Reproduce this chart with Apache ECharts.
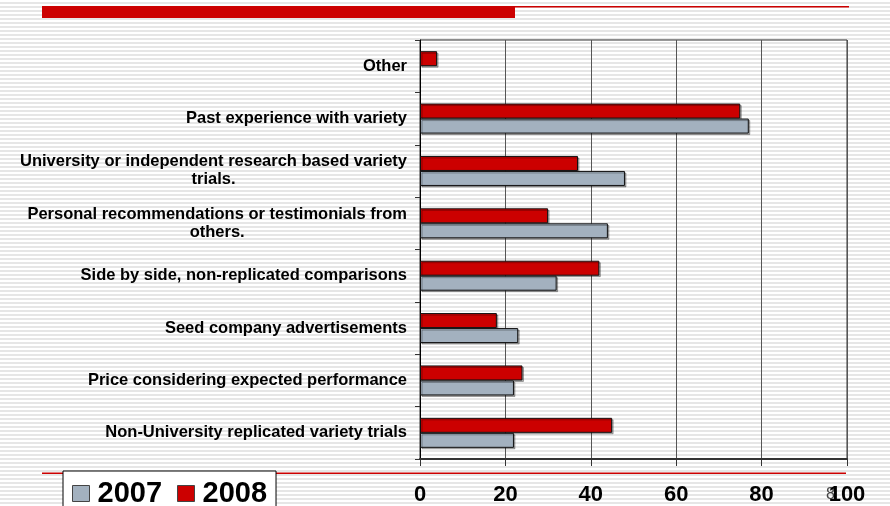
<!DOCTYPE html>
<html>
<head>
<meta charset="utf-8">
<script src="https://cdn.jsdelivr.net/npm/echarts@6/dist/echarts.min.js"></script>
<style>
html, body { margin: 0; padding: 0; }
body {
  width: 890px; height: 506px; overflow: hidden;
  background: repeating-linear-gradient(to bottom, #ffffff 0px, #ffffff 2px, #e6e6e6 2px, #e6e6e6 4px);
}
#chart { width: 890px; height: 506px; }
</style>
</head>
<body>
<div id="chart"></div>
<script>
// Categories listed bottom to top
var categories = [
  "Non-University replicated variety trials",
  "Price considering expected performance",
  "Seed company advertisements",
  "Side by side, non-replicated comparisons",
  "Personal recommendations or testimonials from\nothers.",
  "University or independent research based variety\ntrials.",
  "Past experience with variety",
  "Other"
];
var values2007 = [22, 22, 23, 32, 44, 48, 77, null];
var values2008 = [45, 24, 18, 42, 30, 37, 75, 4];
var xTicks = [0, 20, 40, 60, 80, 100];
var seriesNames = ["2007", "2008"];

var chart = echarts.init(document.getElementById('chart'), null, { renderer: 'canvas' });
var FONT = 'Liberation Sans, Arial, sans-serif';
var RED = '#cc0000';
var GRAY = '#a3b1bf';

var option = {
  backgroundColor: 'transparent',
  animation: false,
  textStyle: { fontFamily: FONT },
  grid: {
    left: 420, top: 40, width: 427, height: 419,
    show: true, borderColor: '#333', borderWidth: 1, backgroundColor: 'transparent',
    containLabel: false
  },
  legend: {
    data: seriesNames,
    left: 63, top: 471,
    orient: 'horizontal',
    backgroundColor: '#ffffff',
    borderColor: '#000000',
    borderWidth: 1,
    padding: [8, 9, 8, 9],
    itemWidth: 17, itemHeight: 16, itemGap: 15,
    icon: 'rect',
    selectedMode: false,
    itemStyle: { borderColor: '#444', borderWidth: 1 },
    formatter: function (name) { return '{t|' + name + '}'; },
    textStyle: {
      fontFamily: FONT, fontSize: 29, fontWeight: 'bold', color: '#000',
      rich: { t: { fontFamily: FONT, fontSize: 29, fontWeight: 'bold', color: '#000', padding: [0, 0, 0, 3] } }
    },
    z: 10
  },
  xAxis: {
    type: 'value',
    min: 0, max: 100, interval: 20,
    axisLine: { show: true, onZero: false, lineStyle: { color: '#333', width: 2 } },
    axisTick: { show: true, length: 7, lineStyle: { color: '#333' } },
    splitLine: { show: true, lineStyle: { color: '#555', width: 1 } },
    axisLabel: {
      margin: 25,
      fontFamily: FONT, fontSize: 22, fontWeight: 'bold', color: '#000',
      formatter: function (v) { return xTicks.indexOf(v) >= 0 ? String(v) : ''; }
    }
  },
  yAxis: {
    type: 'category',
    data: categories,
    axisLine: { show: true, lineStyle: { color: '#000', width: 1 } },
    axisTick: { show: true, length: 5, lineStyle: { color: '#333' } },
    splitLine: { show: false },
    axisLabel: {
      margin: 13,
      interval: 0,
      formatter: function (v) {
        return v.split('\n').map(function (l) { return '{c|' + l + '}'; }).join('\n');
      },
      rich: {
        c: { align: 'center', fontFamily: FONT, fontSize: 16.5, fontWeight: 'bold', color: '#000', lineHeight: 18 }
      }
    }
  },
  series: [
    {
      name: '2008', type: 'bar', data: values2008,
      barWidth: 15, barGap: '0%',
      itemStyle: { color: RED, borderColor: '#111', borderWidth: 1,
        shadowColor: 'rgba(0,0,0,0.3)', shadowOffsetX: 1.5, shadowOffsetY: 1.5, shadowBlur: 0 }
    },
    {
      name: '2007', type: 'bar', data: values2007,
      barWidth: 15, barGap: '0%',
      itemStyle: { color: GRAY, borderColor: '#111', borderWidth: 1,
        shadowColor: 'rgba(0,0,0,0.3)', shadowOffsetX: 1.5, shadowOffsetY: 1.5, shadowBlur: 0 }
    }
  ],
  graphic: [
    { type: 'rect', shape: { x: 42, y: 6, width: 473, height: 12 }, style: { fill: RED }, z: 0 },
    { type: 'rect', shape: { x: 515, y: 6, width: 334, height: 1.5 }, style: { fill: RED }, z: 0 },
    { type: 'rect', shape: { x: 42, y: 472.6, width: 804, height: 1.3 }, style: { fill: RED }, z: 0 },
    { type: 'text', left: 826, top: 487, style: { text: '8', fontFamily: FONT, fontSize: 16, fill: '#444' }, z: 0 }
  ]
};
chart.setOption(option);
</script>
</body>
</html>
